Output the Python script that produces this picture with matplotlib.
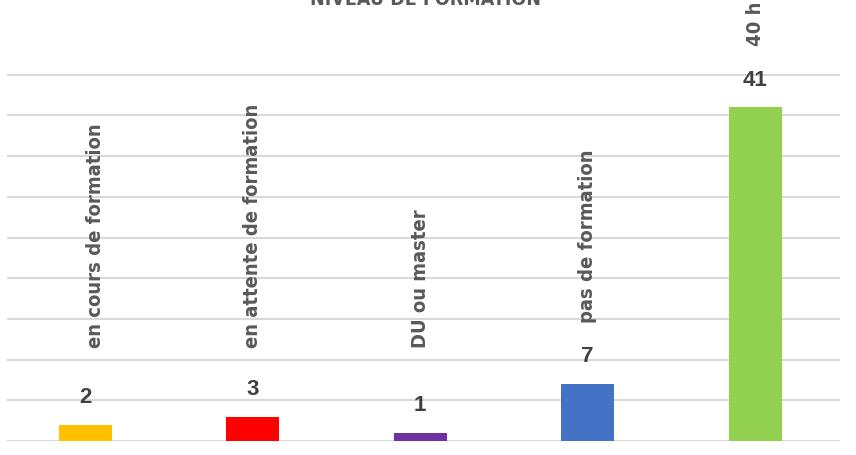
import matplotlib
matplotlib.use("Agg")
import matplotlib.pyplot as plt

# Données du graphique
categories = ["en cours de formation", "en attente de formation", "DU ou master",
              "pas de formation", "40 h"]
valeurs = [2, 3, 1, 7, 41]
couleurs = ["#FFC000", "#FF0000", "#7030A0", "#4472C4", "#92D050"]
titre = "NIVEAU DE FORMATION"

fig = plt.figure(figsize=(8.56, 4.55), dpi=100)
ax = fig.add_axes([0.0082, 0.0308, 0.973, 0.8228])

x = range(len(categories))
ax.bar(x, valeurs, width=0.317, color=couleurs, zorder=2)

ax.set_xlim(-0.469, 4.507)
ax.set_ylim(0, 46)
ax.set_yticks(range(0, 46, 5))
ax.yaxis.grid(True, color="#D9D9D9", linewidth=1.5, zorder=0)
ax.tick_params(left=False, bottom=False, labelleft=False, labelbottom=False)
for s in ax.spines.values():
    s.set_visible(False)

for i, v in enumerate(valeurs):
    # valeur au-dessus de la barre
    ax.annotate(str(v), (i, v), xytext=(0, 19.5), textcoords="offset points",
                ha="center", va="center", fontsize=16, fontweight="bold",
                color="#404040", family="Liberation Sans", annotation_clip=False)
    # nom de la catégorie, vertical
    ax.text(i + 0.06 * (i == 0), max(v + 7.5, 11.4), categories[i], rotation=90,
            ha="center", va="bottom", fontsize=14.5, fontweight="bold",
            fontstretch="condensed", color="#595959", family="DejaVu Sans", clip_on=False)

fig.text(0.497, 0.989, titre, ha="center", va="baseline", fontsize=14,
         fontweight="bold", fontstretch="condensed", color="#595959", family="DejaVu Sans")

fig.savefig("out.png", dpi=100)
